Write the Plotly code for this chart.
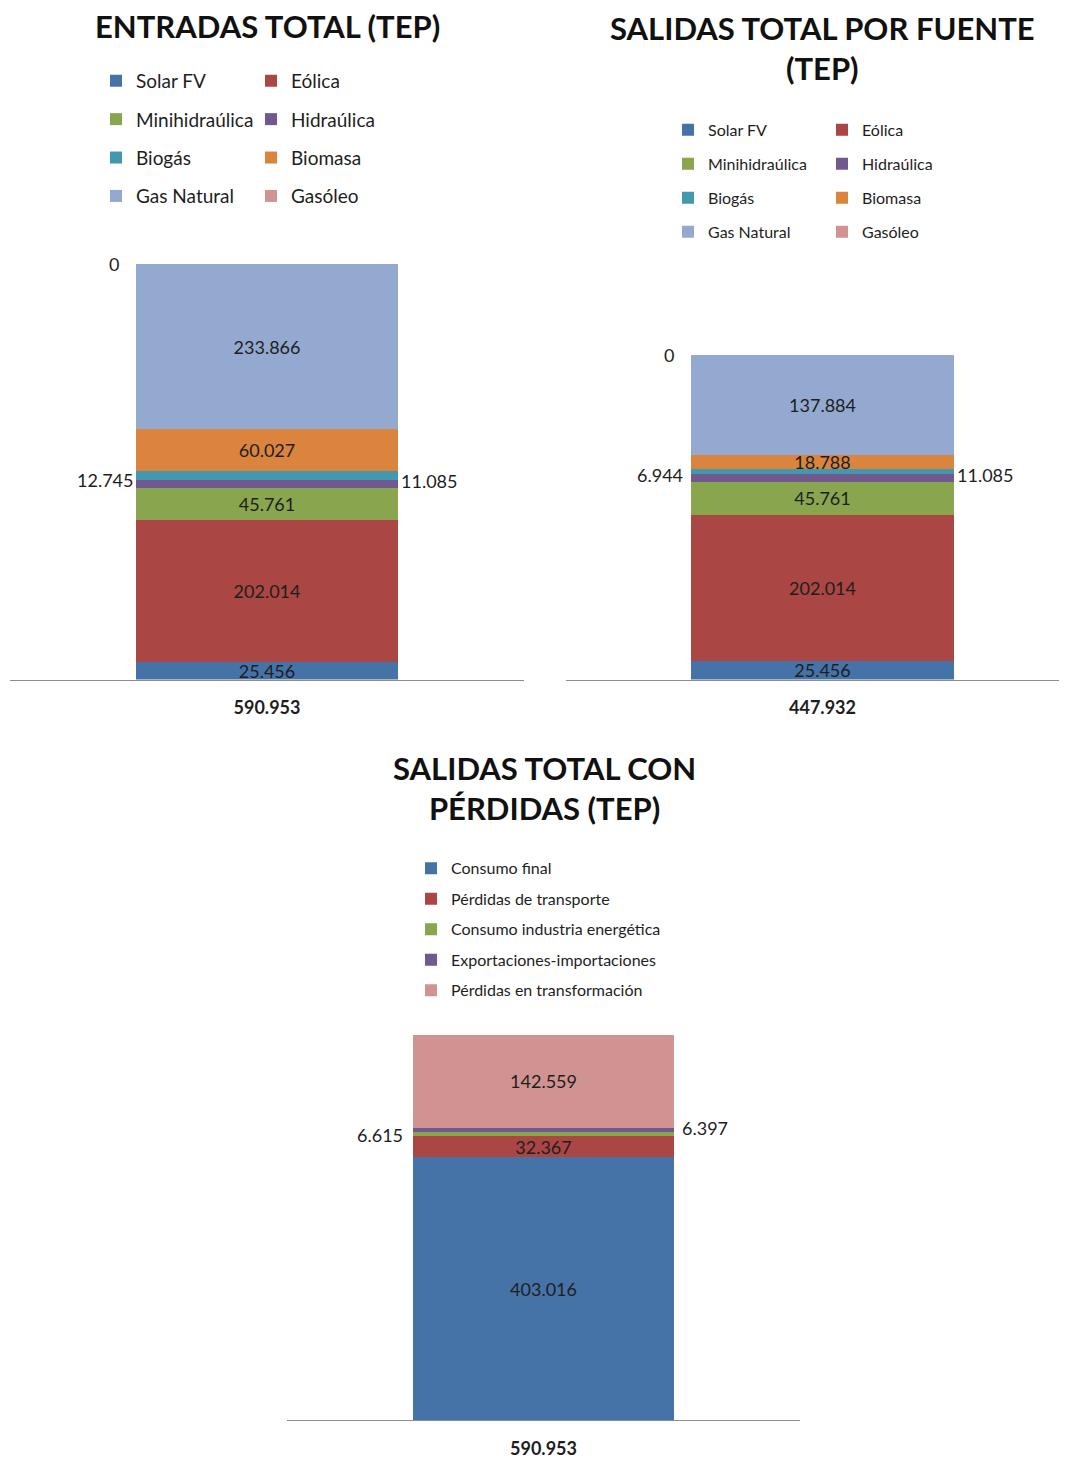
import plotly.graph_objects as go

# page window and body margin of the html page
W, H = 1067, 1459
OFF = 8
FW, FH = W - 2 * OFF, H - OFF   # figure size

# ---------------- data ----------------
fuentes = ["Solar FV", "Eólica", "Minihidraúlica", "Hidraúlica", "Biogás",
           "Biomasa", "Gas Natural", "Gasóleo"]
entradas = [25456, 202014, 45761, 11085, 12745, 60027, 233866, 0]
salidas_fuente = [25456, 202014, 45761, 11085, 6944, 18788, 137884, 0]

destinos = ["Consumo final", "Pérdidas de transporte", "Consumo industria energética",
            "Exportaciones-importaciones", "Pérdidas en transformación"]
salidas_perdidas = [403016, 32367, 6615, 6397, 142559]

totales = ["590.953", "447.932", "590.953"]
titulos = ["ENTRADAS TOTAL (TEP)", "SALIDAS TOTAL POR FUENTE<br>(TEP)",
           "SALIDAS TOTAL CON<br>PÉRDIDAS (TEP)"]

# ---------------- style ----------------
colores_fuente = ["#4572A7", "#AA4643", "#89A54E", "#71588F", "#4198AF",
                  "#DB843D", "#93A9CF", "#D19392"]
colores_destino = ["#4572A7", "#AA4643", "#89A54E", "#71588F", "#D19392"]
FONT = "Lato"
TXT = "#1e1e1e"
BAR_W = 0.51

# outside label placement: (side, gap px, yshift px)
fuera_1 = {"Gasóleo": ("left", 15, 0), "Biogás": ("left", 1, -5), "Hidraúlica": ("right", 1, 3)}
fuera_2 = {"Gasóleo": ("left", 15, 0), "Biogás": ("left", 6, -4), "Hidraúlica": ("right", 1, 3)}
fuera_3 = {"Consumo industria energética": ("left", 8, -1),
           "Exportaciones-importaciones": ("right", 6, 2)}


def fmt(v):
    return f"{v:,}".replace(",", ".")


def px_x(x):
    return (x - OFF) / FW


def px_y(y):
    return 1 - (y - OFF) / FH


fig = go.Figure()
annotations = []


def add_stack(names, values, colors, xa, ya, legends, outside, gid):
    cum = 0
    for i, (n, v, c) in enumerate(zip(names, values, colors)):
        inside = n not in outside
        fig.add_trace(go.Bar(
            x=[0], y=[v], name=n, width=BAR_W,
            marker=dict(color=c, line=dict(width=0)),
            xaxis=xa, yaxis=ya,
            legend=legends[i % len(legends)], legendgroup=f"{gid}{i}",
            text=[fmt(v)] if inside else None,
            textposition="inside", insidetextanchor="middle", textangle=0,
            insidetextfont=dict(family=FONT, size=18, color=TXT),
            hoverinfo="name+y",
        ))
        if not inside:
            side, gap, ys = outside[n]
            ymid = cum + v / 2 if v > 0 else cum
            annotations.append(dict(
                xref=xa, yref=ya,
                x=-BAR_W / 2 if side == "left" else BAR_W / 2,
                y=ymid, text=fmt(v), showarrow=False,
                xanchor="right" if side == "left" else "left",
                xshift=-gap if side == "left" else gap, yshift=ys,
                yanchor="middle",
                font=dict(family=FONT, size=18, color=TXT),
            ))
        cum += v


add_stack(fuentes, entradas, colores_fuente, "x", "y", ["legend", "legend2"], fuera_1, "a")
add_stack(fuentes, salidas_fuente, colores_fuente, "x2", "y2", ["legend3", "legend4"], fuera_2, "b")
add_stack(destinos, salidas_perdidas, colores_destino, "x3", "y3", ["legend5"], fuera_3, "c")

# titles
for t, (cx, cy) in zip(titulos, [(267, 26), (822, 48), (544, 790)]):
    annotations.append(dict(
        xref="paper", yref="paper", x=px_x(cx), y=px_y(cy), text=t,
        showarrow=False, xanchor="center", yanchor="middle",
        font=dict(family=FONT, size=31, color="#111111", weight="bold"),
    ))

axis_common = dict(showgrid=False, zeroline=False, ticks="", showline=True,
                   linecolor="#8c8c8c", linewidth=1, fixedrange=True,
                   tickfont=dict(family=FONT, size=18, color=TXT, weight="bold"),
                   ticklabelstandoff=12)
yaxis_common = dict(showgrid=False, zeroline=False, showticklabels=False,
                    showline=False, ticks="", fixedrange=True)

s1 = (681 - 265) / 590953
s2 = (681 - 356) / 447932
s3 = (1423 - 1037) / 590953
ppu = 514  # px per x-unit
x2_right = OFF + FW

legend_common = dict(xanchor="left", yanchor="top", traceorder="grouped",
                     bgcolor="rgba(0,0,0,0)", itemwidth=30, orientation="v")

fig.update_layout(
    width=FW, height=FH, margin=dict(l=0, r=0, t=0, b=0),
    paper_bgcolor="white", plot_bgcolor="white",
    barmode="stack", separators=",.", showlegend=True,
    uniformtext=dict(minsize=18, mode="show"),
    font=dict(family=FONT, color=TXT),
    xaxis=dict(domain=[px_x(10), px_x(524)], range=[-0.5, 0.5], anchor="y",
               tickvals=[0], ticktext=[totales[0]], **axis_common),
    yaxis=dict(domain=[px_y(681), px_y(681 - 600000 * s1)], range=[0, 600000],
               anchor="x", **yaxis_common),
    xaxis2=dict(domain=[px_x(566), 1.0],
                range=[-(822.5 - 566) / ppu, -(822.5 - 566) / ppu + (x2_right - 566) / ppu],
                anchor="y2", tickvals=[0], ticktext=[totales[1]], **axis_common),
    yaxis2=dict(domain=[px_y(681), px_y(681 - 500000 * s2)], range=[0, 500000],
                anchor="x2", **yaxis_common),
    xaxis3=dict(domain=[px_x(287), px_x(800)], range=[-0.5, 0.5], anchor="y3",
                tickvals=[0], ticktext=[totales[2]], **axis_common),
    yaxis3=dict(domain=[px_y(1423), px_y(1423 - 600000 * s3)], range=[0, 600000],
                anchor="x3", **yaxis_common),
    legend=dict(x=px_x(96), y=px_y(62), font=dict(family=FONT, size=19, color=TXT),
                tracegroupgap=10.7, **legend_common),
    legend2=dict(x=px_x(251), y=px_y(62), font=dict(family=FONT, size=19, color=TXT),
                 tracegroupgap=10.7, **legend_common),
    legend3=dict(x=px_x(668), y=px_y(113), font=dict(family=FONT, size=16, color=TXT),
                 tracegroupgap=10.2, **legend_common),
    legend4=dict(x=px_x(822), y=px_y(113), font=dict(family=FONT, size=16, color=TXT),
                 tracegroupgap=10.2, **legend_common),
    legend5=dict(x=px_x(411), y=px_y(853), font=dict(family=FONT, size=16, color=TXT),
                 tracegroupgap=6.7, **legend_common),
    annotations=annotations,
)

fig.write_html("out.html")
